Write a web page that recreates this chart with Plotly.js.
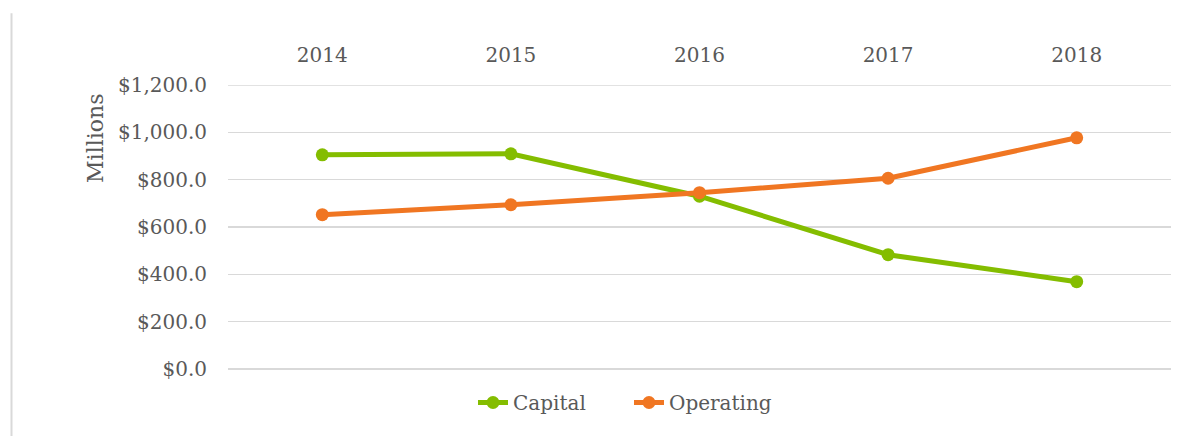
<!DOCTYPE html>
<html>
<head>
<meta charset="utf-8">
<script src="https://cdn.plot.ly/plotly-3.0.1.min.js"></script>
<style>html,body{margin:0;padding:0;background:#fff;}#chart{width:1198px;height:436px;}</style>
</head>
<body>
<div id="chart"></div>
<script>
const years = ["2014", "2015", "2016", "2017", "2018"];
const capital = [905, 909, 730, 483, 369];
const operating = [652, 694, 745, 806, 977];
const yMax = 1200;

const FONT = "DejaVu Serif, Liberation Serif, serif";
const TXT = "#595959";
const GREEN = "#84bd00";
const ORANGE = "#f07622";
const GRID = "#d9d9d9";

const traces = [
  {x: years, y: capital, name: "Capital", type: "scatter", mode: "lines+markers",
   line: {color: GREEN, width: 5}, marker: {color: GREEN, size: 13}},
  {x: years, y: operating, name: "Operating", type: "scatter", mode: "lines+markers",
   line: {color: ORANGE, width: 5}, marker: {color: ORANGE, size: 13}}
];

const layout = {
  width: 1198, height: 436,
  margin: {l: 228, r: 27, t: 85, b: 66.5},
  paper_bgcolor: "#fff", plot_bgcolor: "#fff",
  font: {family: FONT, color: TXT, size: 20},
  showlegend: true,
  legend: {orientation: "h", x: (473 - 228) / 943, xanchor: "left", y: -0.118, yanchor: "middle",
           font: {family: FONT, size: 20, color: TXT}, entrywidth: 111, entrywidthmode: "pixels",
           tracegroupgap: 0},
  xaxis: {type: "category", side: "top", range: [-0.5, 4.5], showgrid: false, zeroline: false,
          showline: false, ticks: "", ticklabelstandoff: 18, tickfont: {size: 20}},
  yaxis: {range: [0, yMax], dtick: 200, tick0: 0, tickprefix: "$", tickformat: ",.1f",
          showgrid: true, gridcolor: GRID, gridwidth: 1.5, zeroline: true,
          zerolinecolor: GRID, zerolinewidth: 1.5,
          showline: false, ticks: "", ticklabelstandoff: 20, tickfont: {size: 20}},
  annotations: [{text: "Millions", xref: "paper", yref: "paper", x: (96 - 228) / 943,
                 y: (369.5 - 139) / 284.5, xanchor: "center", yanchor: "middle",
                 textangle: -90, showarrow: false, font: {family: FONT, size: 22, color: TXT}}],
  shapes: [
    {type: "line", xref: "paper", yref: "y", x0: 0, x1: 1, y0: yMax, y1: yMax, layer: "below",
     line: {color: GRID, width: 1.5}},
    {type: "line", xref: "paper", yref: "paper", x0: (11.5 - 228) / 943, x1: (11.5 - 228) / 943,
     y0: (369.5 - 13) / 284.5, y1: (369.5 - 440) / 284.5, line: {color: GRID, width: 2}}]
};

Plotly.newPlot("chart", traces, layout, {displayModeBar: false, staticPlot: true});
</script>
</body>
</html>
